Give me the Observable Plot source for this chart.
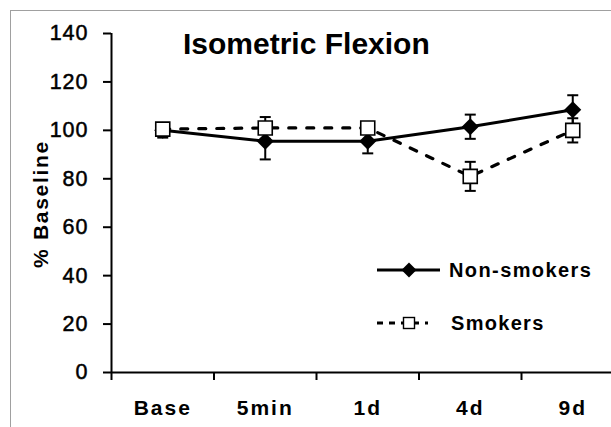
<!DOCTYPE html>
<html><head><meta charset="utf-8">
<script src="https://cdn.jsdelivr.net/npm/d3@7"></script>
<script src="https://cdn.jsdelivr.net/npm/@observablehq/plot@0.6"></script>
<style>
html,body{margin:0;padding:0;background:#fff;overflow:hidden;}
#wrap{position:relative;width:611px;height:427px;overflow:hidden;}
#border{position:absolute;left:10px;top:10px;width:700px;height:600px;border:1px solid #a0a0a0;box-sizing:border-box;}
#chart{position:absolute;left:0;top:0;}
</style></head><body>
<div id="wrap"><div id="border"></div><div id="chart"></div></div>
<script>
const categories = ["Base", "5min", "1d", "4d", "9d"];
const nonSmokers = [100, 95.5, 95.5, 101.5, 108.5];
const nonSmokersErr = [3, 7.5, 5, 5, 6];
const smokers = [100.5, 101, 101, 81, 100];
const smokersErr = [2, 4.5, 2, 6, 5];
const yTicks = [0, 20, 40, 60, 80, 100, 120, 140];
const seriesNames = ["Non-smokers", "Smokers"];
const title = "Isometric Flexion";
const yLabel = "% Baseline";

const rows = (vals, errs, name) => vals.map((v, i) => ({cat: categories[i], i: i + 0.5, v, lo: v - errs[i], hi: v + errs[i], name}));
const ns = rows(nonSmokers, nonSmokersErr, seriesNames[0]);
const sm = rows(smokers, smokersErr, seriesNames[1]);

const cap = {draw(ctx) { ctx.moveTo(-5.5, 0); ctx.lineTo(5.5, 0); }};
const diamond = {draw(ctx) { ctx.moveTo(0, -8.5); ctx.lineTo(8.5, 0); ctx.lineTo(0, 8.5); ctx.lineTo(-8.5, 0); ctx.closePath(); }};
const square = {draw(ctx) { ctx.rect(-7, -7, 14, 14); }};

const errMarks = (data) => [
  Plot.ruleX(data, {x: "i", y1: "lo", y2: "hi", strokeWidth: 2}),
  Plot.dot(data, {x: "i", y: "lo", symbol: cap, stroke: "black", fill: "none", strokeWidth: 2}),
  Plot.dot(data, {x: "i", y: "hi", symbol: cap, stroke: "black", fill: "none", strokeWidth: 2})
];

const plot = Plot.plot({
  width: 611, height: 427,
  marginLeft: 111, marginTop: 33, marginBottom: 55, marginRight: 0,
  x: {type: "linear", domain: [0, categories.length], range: [111, 623.5]},
  y: {domain: [0, 140], range: [372, 33]},
  style: {fontFamily: "'Liberation Sans', Arial, sans-serif", color: "#000", background: "transparent", overflow: "visible"},
  marks: [
    ...errMarks(ns),
    ...errMarks(sm),
    Plot.line(sm, {x: "i", y: "v", strokeWidth: 3.2, strokeDasharray: "7,11"}),
    Plot.line(ns, {x: "i", y: "v", strokeWidth: 3}),
    Plot.dot(ns, {x: "i", y: "v", symbol: diamond, fill: "black", stroke: "none"}),
    Plot.dot(sm, {x: "i", y: "v", symbol: square, fill: "white", stroke: "black", strokeWidth: 1.6}),
    Plot.ruleY([0], {strokeWidth: 2}),
    Plot.ruleX([0], {y1: 0, y2: 140, strokeWidth: 2}),
    Plot.axisY({ticks: yTicks, tickSize: 8, tickPadding: 15, strokeWidth: 2, fontSize: 21.5, tickFormat: d => d, label: null}),
    Plot.axisX({ticks: d3.range(categories.length + 1), tickSize: 8, tickFormat: () => "", strokeWidth: 2, label: null}),
    Plot.axisX({ticks: categories.map((c, i) => i + 0.5), tickSize: 0, tickPadding: 28, tickFormat: d => categories[Math.floor(d)], fontSize: 21, fontWeight: "bold", label: null})
  ]
});
document.getElementById("chart").appendChild(plot);

const svg = d3.select(plot);
svg.selectAll("g[aria-label='x-axis tick label'] text").attr("letter-spacing", 2);
svg.selectAll("g[aria-label='y-axis tick label'] text").attr("letter-spacing", 1).attr("stroke", "black").attr("stroke-width", 0.5);

svg.append("text").attr("x", 183).attr("y", 54).attr("text-anchor", "start").attr("font-size", 30).attr("font-weight", "bold").attr("fill", "black").text(title);
svg.append("text").attr("transform", "translate(48,204) rotate(-90)").attr("text-anchor", "middle")
  .attr("font-size", 21).attr("font-weight", "bold").attr("letter-spacing", 1.7).attr("fill", "black").text(yLabel);

// legend
const lg = svg.append("g").attr("text-anchor", "start");
lg.append("line").attr("x1", 377).attr("x2", 440).attr("y1", 270).attr("y2", 270).attr("stroke", "black").attr("stroke-width", 3);
lg.append("path").attr("d", "M409,262.5L416.5,270L409,277.5L401.5,270Z").attr("fill", "black");
lg.append("text").attr("x", 449).attr("y", 277).attr("font-size", 20).attr("font-weight", "bold").attr("letter-spacing", 1.4).attr("fill", "black").text(seriesNames[0]);
lg.append("line").attr("x1", 377).attr("x2", 428).attr("y1", 323).attr("y2", 323).attr("stroke", "black").attr("stroke-width", 3).attr("stroke-dasharray", "6,6");
lg.append("rect").attr("x", 403.5).attr("y", 317.5).attr("width", 11).attr("height", 11).attr("fill", "white").attr("stroke", "black").attr("stroke-width", 1.4);
lg.append("text").attr("x", 451).attr("y", 329.5).attr("font-size", 20).attr("font-weight", "bold").attr("letter-spacing", 1.3).attr("fill", "black").text(seriesNames[1]);
</script>
</body></html>
